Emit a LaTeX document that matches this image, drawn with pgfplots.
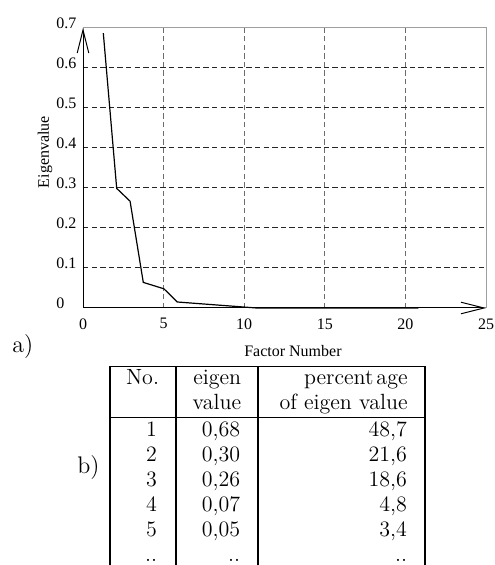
\documentclass[border=0pt]{standalone}
\usepackage{pgfplots}
\pgfplotsset{compat=1.18}
\usepackage{fontspec}
\newfontfamily\chartfont{Liberation Serif}
\usetikzlibrary{arrows.meta}
\begin{document}
\begin{tikzpicture}
\useasboundingbox (-41.5pt,-128.5pt) rectangle (205.5pt,154pt);
\begin{axis}[
  scale only axis,
  width=201.5pt, height=140pt,
  xmin=0, xmax=25, ymin=0, ymax=0.7,
  xtick={0,5,10,15,20,25},
  ytick={0,0.1,0.2,0.3,0.4,0.5,0.6,0.7},
  yticklabels={0,0.1,0.2,0.3,0.4,0.5,0.6,0.7},
  xticklabels={0,5,10,15,20,25},
  tick style={draw=none},
  major tick length=0pt,
  /pgf/number format/assume math mode=true,
  tick label style={font=\chartfont\fontsize{8}{9.6}\selectfont},
  yticklabel style={anchor=west, inner sep=0pt, xshift=-13.5pt, yshift=2.2pt},
  xticklabel style={yshift=-1.7pt},
  axis line style={draw=gray!75, line width=0.5pt},
  grid=none,
  xlabel={Factor Number},
  ylabel={Eigenvalue},
  label style={font=\chartfont\fontsize{8}{9.6}\selectfont},
  xlabel style={at={(axis description cs:0.521,-0.1536)}, anchor=center},
  ylabel style={at={(axis description cs:-0.0943,0.557)}, anchor=center, rotate=0},
  clip=false,
]
% grid
\pgfplotsinvokeforeach{5,10,15,20}{
  \draw[gray!85!black, line width=0.5pt, dash pattern=on 2.7pt off 1.6pt] (axis cs:#1,0) -- (axis cs:#1,0.7);
}
\pgfplotsinvokeforeach{0.1,0.2,0.3,0.4,0.5,0.6}{
  \draw[black!85, line width=0.5pt, dash pattern=on 2.7pt off 1.6pt] (axis cs:0,#1) -- (axis cs:25,#1);
}
\addplot[black, line width=0.6pt, mark=none] coordinates {
  (1.26,0.687) (2.09,0.299) (2.92,0.267) (3.74,0.064) (5.02,0.048)
  (5.85,0.015) (10.77,0.0) (20.8,0.0)
};
\draw[black, line width=0.5pt, -{Straight Barb[length=11.5pt,width=5.8pt]}] (axis cs:0,0) -- (axis cs:0,0.7);
\draw[black, line width=0.5pt, -{Straight Barb[length=11.5pt,width=5.8pt]}] (axis cs:0,0) -- (axis cs:25,0);
\end{axis}
% labels a), b)
\node[anchor=base west, inner sep=0pt, font=\fontsize{12}{14}\selectfont] at (-35.5pt,-22.5pt) {a)};
\node[anchor=base west, inner sep=0pt, font=\fontsize{12}{14}\selectfont] at (-3pt,-82.7pt) {b)};
% table
\draw[line width=0.8pt] (13.5pt,-128.5pt) -- (13.5pt,-29.3pt) -- (171pt,-29.3pt) -- (171pt,-128.5pt);
\draw[line width=0.8pt] (13.5pt,-54.8pt) -- (171pt,-54.8pt);
\draw[line width=0.8pt] (46.5pt,-29.3pt) -- (46.5pt,-128.5pt);
\draw[line width=0.8pt] (87.5pt,-29.3pt) -- (87.5pt,-128.5pt);
\begin{scope}[every node/.style={anchor=base east, inner sep=0pt, font=\fontsize{11}{13}\selectfont}]
\node at (38.2pt,-38.2pt) {No.};
\node at (79.3pt,-38.2pt) {eigen};
\node at (79.3pt,-51pt) {value};
\node at (162.5pt,-38.2pt) {percent\kern1.5pt age};
\node at (162.5pt,-51pt) {of eigen value};
\node at (37.2pt,-64.35pt) {1};
\node at (37.2pt,-76.85pt) {2};
\node at (37.2pt,-89.35pt) {3};
\node at (37.2pt,-101.85pt) {4};
\node at (37.2pt,-114.35pt) {5};
\node at (37.2pt,-126.85pt) {..};
\node at (78.8pt,-64.35pt) {0,68};
\node at (78.8pt,-76.85pt) {0,30};
\node at (78.8pt,-89.35pt) {0,26};
\node at (78.8pt,-101.85pt) {0,07};
\node at (78.8pt,-114.35pt) {0,05};
\node at (78.8pt,-126.85pt) {..};
\node at (162.2pt,-64.35pt) {48,7};
\node at (162.2pt,-76.85pt) {21,6};
\node at (162.2pt,-89.35pt) {18,6};
\node at (162.2pt,-101.85pt) {4,8};
\node at (162.2pt,-114.35pt) {3,4};
\node at (162.2pt,-126.85pt) {..};
\end{scope}
\end{tikzpicture}
\end{document}
